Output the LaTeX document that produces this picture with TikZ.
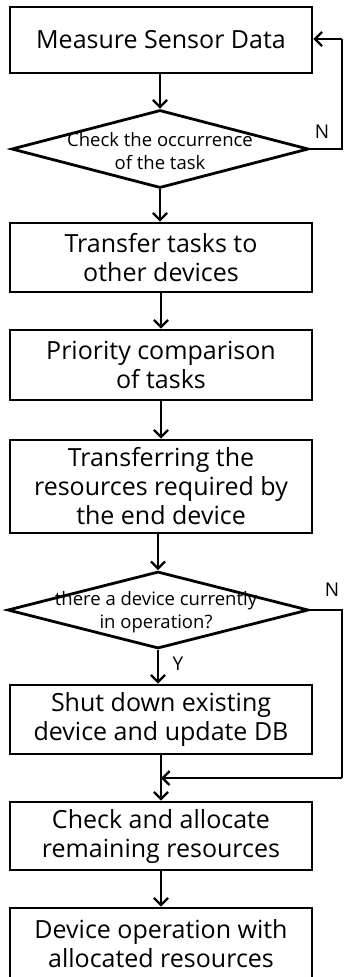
\documentclass[tikz,border=0pt]{standalone}
\usepackage{fontspec}
\setmainfont{Open Sans}
\usetikzlibrary{arrows.meta,shapes.geometric}
\begin{document}
\begin{tikzpicture}[x=1pt,y=-1pt,
  procbox/.style={draw,line width=2.8pt,rectangle,minimum width=302pt,inner sep=0pt,align=center,
    font=\fontsize{25}{29}\selectfont},
  decbox/.style={draw,line width=2.8pt,diamond,inner sep=0pt},
  dectext/.style={align=center,inner sep=0pt,font=\fontsize{18.5}{23}\selectfont},
  lbl/.style={inner sep=0pt,font=\fontsize{19}{20}\selectfont},
  conn/.style={line width=2.5pt,-{Straight Barb[length=7pt,width=14pt,line width=2.3pt]}},
  plain/.style={line width=2.5pt}
]
\useasboundingbox (0,0) rectangle (344,977);
\clip (0,0) rectangle (344,977);
\node[procbox,minimum height=66pt] (b1) at (161,40) {Measure Sensor Data};
\node[decbox,minimum width=297pt,minimum height=78pt] (d1) at (160,149) {};
\node[dectext] (d1t) at (160,151) {Check the occurrence\\of the task};
\node[procbox,minimum height=69pt] (b2) at (161,257.5) {Transfer tasks to\\other devices};
\node[procbox,minimum height=70pt] (b3) at (161,365) {Priority comparison\\of tasks};
\node[procbox,minimum height=93pt] (b4) at (161,486.5) {Transferring the\\resources required by\\the end device};
\node[decbox,minimum width=301pt,minimum height=77pt] (d2) at (158,610) {};
\node[dectext] (d2t) at (156,612) {there a device currently\\in operation?};
\node[procbox,minimum height=69pt] (b5) at (161,719.5) {Shut down existing\\device and update DB};
\node[procbox,minimum height=68pt] (b6) at (161,836) {Check and allocate\\remaining resources};
\node[procbox,minimum height=72pt] (b7) at (161,944) {Device operation with\\allocated resources};
\coordinate (r1) at (342,149);
\coordinate (r1t) at (342,39);
\coordinate (r2) at (342,610);
\coordinate (r2b) at (342,778);
\coordinate (m) at (161,778);
\draw[conn] (b1.south -| d1.north) -- (d1.north);
\draw[conn] (d1.south) -- (d1.south |- b2.north);
\draw[conn] (b2) -- (b3);
\draw[conn] (b3) -- (b4);
\draw[conn] (b4.south -| d2.north) -- (d2.north);
\draw[conn] (d2.south) -- (d2.south |- b5.north);
\draw[conn] (b5) -- (b6);
\draw[conn] (b6) -- (b7);
\draw[plain] (d1.east) -- (r1) -- (r1t);
\draw[conn] (r1t) -- (r1t -| b1.east);
\draw[plain] (d2.east) -- (r2) -- (r2b);
\draw[conn] (r2b) -- (m);
\node[lbl] (n1) at (322,132) {N};
\node[lbl] (n2) at (332,590) {N};
\node[lbl] (y1) at (178,664) {Y};
\end{tikzpicture}
\end{document}
